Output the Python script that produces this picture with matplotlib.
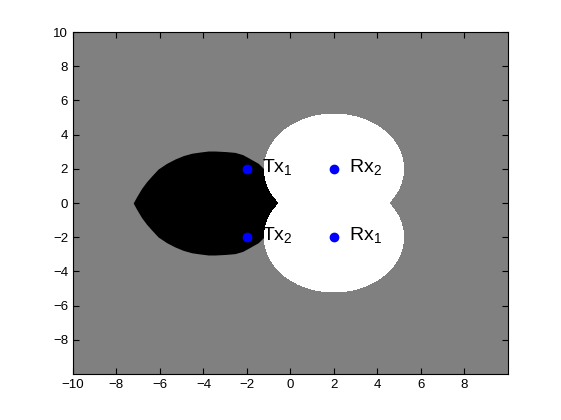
import matplotlib
matplotlib.use("Agg")
import matplotlib.pyplot as plt
from matplotlib.patches import Circle

plt.rcParams['font.family'] = ['Liberation Sans', 'DejaVu Sans']
plt.rcParams['mathtext.fontset'] = 'custom'
plt.rcParams['mathtext.rm'] = 'Liberation Sans'
plt.rcParams['mathtext.it'] = 'Liberation Sans'

# node positions and labels
node_x = [-2, -2, 2, 2]
node_y = [2, -2, 2, -2]
node_labels = ['Tx$_1$', 'Tx$_2$', 'Rx$_2$', 'Rx$_1$']

# upper edge of the black region (symmetric about y = 0)
black_x = [-7.23, -7.07, -6.84, -6.61, -6.38, -6.08, -5.69, -5.31, -4.93, -4.54,
           -4.16, -3.78, -3.47, -3.0, -2.55, -2.2, -1.94, -1.48, -1.17, -0.6, 0.0, 0.4]
black_y = [0.0, 0.37, 0.86, 1.25, 1.58, 1.99, 2.32, 2.57, 2.77, 2.91,
           2.98, 3.04, 3.04, 3.01, 2.96, 2.83, 2.65, 2.32, 1.93, 1.3, 0.6, 0.0]

# white region = union of two discs around the receivers
white_cx = [2, 2]
white_cy = [2, -2]
white_r = 3.2

xticks = [-10, -8, -6, -4, -2, 0, 2, 4, 6, 8]
yticks = [-8, -6, -4, -2, 0, 2, 4, 6, 8, 10]

fig = plt.figure(figsize=(5.61, 4.2), dpi=100)
ax = fig.add_axes([0.130, 0.1095, 0.7755, 0.8143])
ax.set_facecolor('#808080')

# black region first, white discs drawn over it
ax.fill_between(black_x, [-v for v in black_y], black_y, color='black', lw=0, antialiased=False, zorder=1)
for cx, cy in zip(white_cx, white_cy):
    ax.add_patch(Circle((cx, cy), white_r, color='white', lw=0, antialiased=False, zorder=2))

ax.plot(node_x, node_y, 'o', color='#0000ff', markersize=6, zorder=3)
for x, y, s in zip(node_x, node_y, node_labels):
    ax.text(x + 0.7, y + 0.1, s, fontsize=14, va='center', ha='left', zorder=4)

ax.set_xlim(-10, 10)
ax.set_ylim(-10, 10)
ax.set_xticks(xticks)
ax.set_yticks(yticks)
ax.tick_params(direction='in', top=True, right=True, length=4, width=0.8, labelsize=9.5)
for sp in ax.spines.values():
    sp.set_linewidth(0.8)

fig.savefig('out.png', dpi=100)
